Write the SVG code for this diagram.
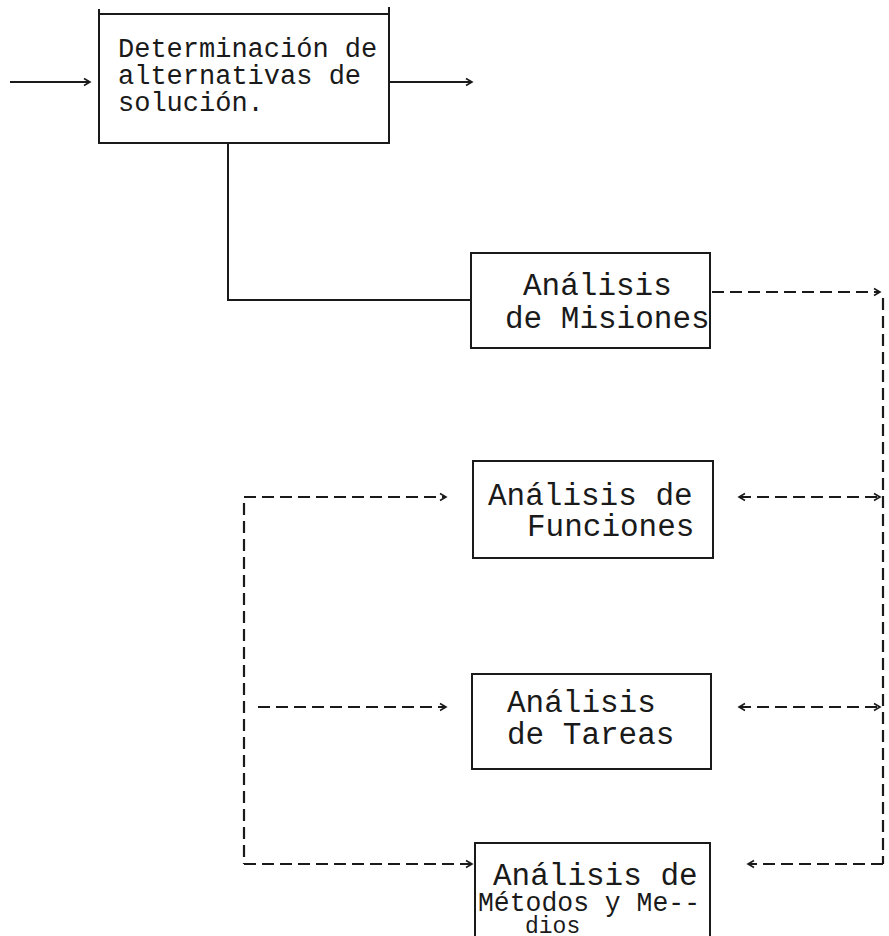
<svg xmlns="http://www.w3.org/2000/svg" width="889" height="936" viewBox="0 0 889 936">
  <style>
    .box { fill: none; stroke: #1a1a1a; stroke-width: 2; }
    .solid { fill: none; stroke: #1a1a1a; stroke-width: 2; }
    .dash { fill: none; stroke: #1a1a1a; stroke-width: 2.2; stroke-dasharray: 12 6; }
    .t { font-family: "Liberation Mono", "DejaVu Sans Mono", monospace; fill: #1a1a1a; }
    .t1 { font-size: 27px; }
    .t2 { font-size: 31px; }
  </style>
  <defs>
    <marker id="head" markerWidth="10" markerHeight="10" refX="8" refY="5" orient="auto-start-reverse" markerUnits="userSpaceOnUse">
      <path d="M2,1.5 L8,5 L2,8.5" fill="none" stroke="#1a1a1a" stroke-width="1.6"/>
    </marker>
  </defs>
  <rect width="889" height="936" fill="#ffffff"/>

  <!-- connectors -->
  <g id="connectors">
    <line class="solid" x1="10" y1="82" x2="90" y2="82" marker-end="url(#head)"/>
    <line class="solid" x1="389" y1="82" x2="472" y2="82" marker-end="url(#head)"/>
    <polyline class="solid" points="228,143 228,300 471,300"/>

    <!-- right-hand dashed bus -->
    <line class="dash" x1="712" y1="292" x2="880" y2="292" marker-end="url(#head)"/>
    <line class="dash" x1="883" y1="298" x2="883" y2="864"/>
    <line class="dash" x1="739" y1="497" x2="880" y2="497" marker-start="url(#head)" marker-end="url(#head)"/>
    <line class="dash" x1="739" y1="707" x2="880" y2="707" marker-start="url(#head)" marker-end="url(#head)"/>
    <line class="dash" x1="883" y1="864" x2="748" y2="864" marker-end="url(#head)"/>

    <!-- left-hand dashed bus -->
    <line class="dash" x1="244" y1="503" x2="244" y2="864"/>
    <line class="dash" x1="244" y1="497" x2="446" y2="497" marker-end="url(#head)"/>
    <line class="dash" x1="258" y1="707" x2="446" y2="707" marker-end="url(#head)"/>
    <line class="dash" x1="244" y1="864" x2="472" y2="864" marker-end="url(#head)"/>
  </g>

  <g id="node-alternativas">
    <rect class="box" x="99" y="14" width="290" height="129"/>
    <line class="solid" x1="99" y1="9" x2="99" y2="14"/>
    <line class="solid" x1="389" y1="7" x2="389" y2="14"/>
    <text class="t t1" x="118" y="57">Determinación de</text>
    <text class="t t1" x="118" y="84">alternativas de</text>
    <text class="t t1" x="118" y="111">solución.</text>
  </g>

  <g id="node-misiones">
    <rect class="box" x="471" y="253" width="239" height="95"/>
    <text class="t t2" x="523" y="295">Análisis</text>
    <text class="t t2" x="505" y="328">de Misiones</text>
  </g>

  <g id="node-funciones">
    <rect class="box" x="473" y="461" width="240" height="97"/>
    <text class="t t2" x="488" y="505">Análisis de</text>
    <text class="t t2" x="527" y="536">Funciones</text>
  </g>

  <g id="node-tareas">
    <rect class="box" x="472" y="674" width="239" height="95"/>
    <text class="t t2" x="507" y="712">Análisis</text>
    <text class="t t2" x="507" y="744">de Tareas</text>
  </g>

  <g id="node-metodos">
    <path class="box" d="M475,940 L475,843 L710,843 L710,940"/>
    <text class="t t2" x="493" y="885">Análisis de</text>
    <text class="t" font-size="27" x="478" y="911" textLength="222" lengthAdjust="spacingAndGlyphs">Métodos y Me--</text>
    <text class="t" font-size="23" x="525" y="933">dios</text>
  </g>
</svg>
